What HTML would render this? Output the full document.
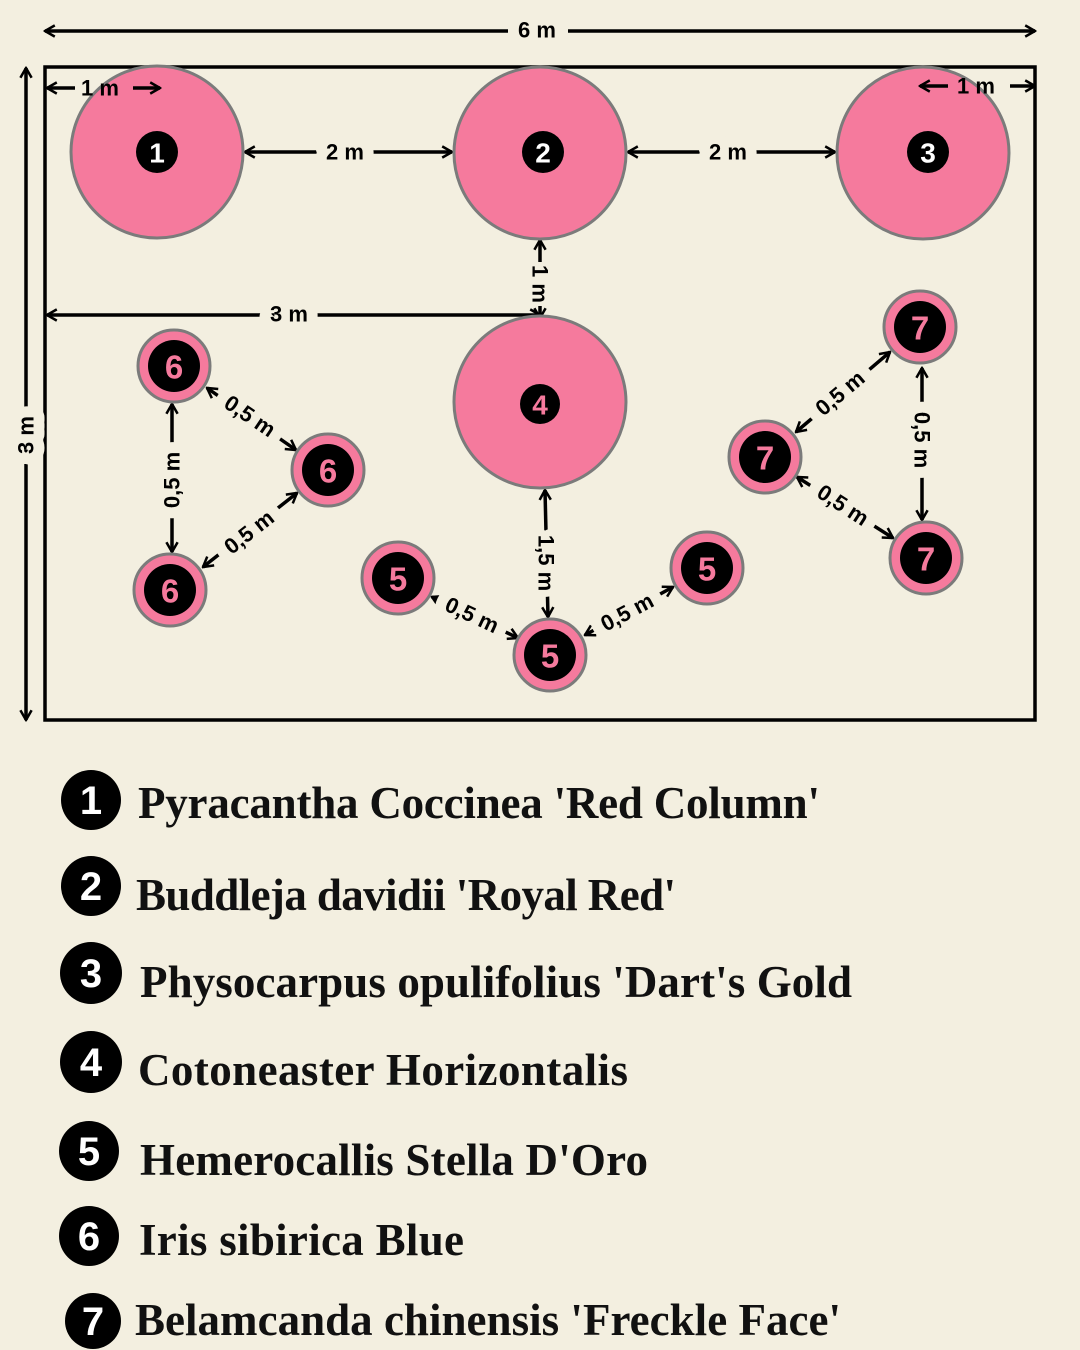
<!DOCTYPE html>
<html><head><meta charset="utf-8"><style>
html,body{margin:0;padding:0;background:#f3efe0;}
svg{display:block}
.d{font-family:"Liberation Sans",sans-serif;font-weight:bold;font-size:22px;fill:#000;paint-order:stroke;stroke:#f3efe0;stroke-width:22px;stroke-linejoin:round}
.d2{font-family:"Liberation Sans",sans-serif;font-weight:bold;font-size:22px;fill:#000}
.n{font-family:"Liberation Sans",sans-serif;font-weight:bold;text-anchor:middle;dominant-baseline:central}
.l{font-family:"Liberation Serif",serif;font-weight:bold;font-size:45px;fill:#111}
</style></head><body>
<svg width="1080" height="1350" viewBox="0 0 1080 1350" xmlns="http://www.w3.org/2000/svg">
<defs>
<marker id="b" viewBox="0 0 10 10" refX="9" refY="5" markerWidth="14" markerHeight="14" orient="auto-start-reverse" markerUnits="userSpaceOnUse">
<path d="M2,1 L9,5 L2,9" fill="none" stroke="#000" stroke-width="1.8"/>
</marker>
</defs>
<rect width="1080" height="1350" fill="#f3efe0"/>
<g stroke="#000" stroke-width="3.5" fill="none" marker-start="url(#b)" marker-end="url(#b)">
<line x1="26" y1="68" x2="26" y2="720"/>
<line x1="245" y1="152" x2="452" y2="152"/>
<line x1="628" y1="152" x2="835" y2="152"/>
<line x1="47" y1="315" x2="540" y2="315"/>
<line x1="545" y1="490" x2="548" y2="617"/>
<line x1="172" y1="404" x2="172" y2="552"/>
<line x1="207" y1="388" x2="296" y2="450"/>
<line x1="203" y1="567" x2="297" y2="493"/>
<line x1="432" y1="597" x2="518" y2="638"/>
<line x1="585" y1="635" x2="673" y2="587"/>
<line x1="796" y1="432" x2="890" y2="352"/>
<line x1="797" y1="477" x2="893" y2="538"/>
<line x1="922" y1="368" x2="922" y2="520"/>
</g>
<g stroke="#000" stroke-width="3.5" fill="none" marker-end="url(#b)">
<line x1="508" y1="31" x2="45" y2="31"/>
<line x1="568" y1="31" x2="1035" y2="31"/>
<line x1="540" y1="262" x2="540" y2="240"/>
<line x1="540" y1="306" x2="540" y2="318"/>
</g>
<rect x="45" y="67" width="990" height="653" fill="none" stroke="#000" stroke-width="3.5"/>
<g fill="#f57a9d" stroke="#7b7b7b" stroke-width="3">
<circle cx="157" cy="152" r="86"/><circle cx="540" cy="153" r="86"/><circle cx="923" cy="153" r="86"/><circle cx="540" cy="402" r="86"/>
<circle cx="174" cy="366" r="36"/><circle cx="328" cy="470" r="36"/><circle cx="170" cy="590" r="36"/>
<circle cx="398" cy="578" r="36"/><circle cx="550" cy="655" r="36"/><circle cx="707" cy="568" r="36"/>
<circle cx="920" cy="327" r="36"/><circle cx="765" cy="457" r="36"/><circle cx="926" cy="558" r="36"/>
</g>
<g fill="#000">
<circle cx="157" cy="152" r="21"/><circle cx="543" cy="152" r="21"/><circle cx="928" cy="152" r="21"/><circle cx="540" cy="404" r="20"/>
<circle cx="174" cy="366" r="26"/><circle cx="328" cy="470" r="26"/><circle cx="170" cy="590" r="26"/>
<circle cx="398" cy="578" r="26"/><circle cx="550" cy="655" r="26"/><circle cx="707" cy="568" r="26"/>
<circle cx="920" cy="327" r="26"/><circle cx="765" cy="457" r="26"/><circle cx="926" cy="558" r="26"/>
</g>
<g class="n" font-size="28" fill="#fff">
<text x="157" y="153">1</text><text x="543" y="153">2</text><text x="928" y="153">3</text>
<text x="540" y="405" fill="#f57a9d">4</text>
</g>
<g class="n" font-size="33" fill="#f57a9d">
<text x="174" y="367">6</text><text x="328" y="471">6</text><text x="170" y="591">6</text>
<text x="398" y="579">5</text><text x="550" y="656">5</text><text x="707" y="569">5</text>
<text x="920" y="328">7</text><text x="765" y="458">7</text><text x="926" y="559">7</text>
</g>
<g class="d" text-anchor="middle" dominant-baseline="central">
<text transform="translate(26,435) rotate(-90)">3 m</text>
<text x="345" y="152">2 m</text>
<text x="728" y="152">2 m</text>
<text x="289" y="314">3 m</text>
<text transform="translate(172,480) rotate(-90)">0,5 m</text>
<text transform="translate(250,416) rotate(34)">0,5 m</text>
<text transform="translate(249,532) rotate(-38)">0,5 m</text>
<text transform="translate(472,615) rotate(25)">0,5 m</text>
<text transform="translate(627,612) rotate(-28)">0,5 m</text>
<text transform="translate(840,393) rotate(-40)">0,5 m</text>
<text transform="translate(843,505) rotate(33)">0,5 m</text>
<text transform="translate(922,440) rotate(90)">0,5 m</text>
<text transform="translate(546,563) rotate(90)" style="stroke-width:14px">1,5 m</text>
</g>
<g class="d2" text-anchor="middle" dominant-baseline="central">
<text x="537" y="30">6 m</text>
<text transform="translate(540,284) rotate(90)">1 m</text>
</g>
<g stroke="#000" stroke-width="3.5" marker-end="url(#b)">
<line x1="75" y1="88" x2="47" y2="88"/>
<line x1="133" y1="88" x2="160" y2="88"/>
<line x1="948" y1="86" x2="920" y2="86"/>
<line x1="1010" y1="86" x2="1035" y2="86"/>
</g>
<text class="d2" x="100" y="88" text-anchor="middle" dominant-baseline="central">1 m</text>
<text class="d2" x="976" y="86" text-anchor="middle" dominant-baseline="central">1 m</text>
<g fill="#000">
<circle cx="91" cy="800" r="30"/><circle cx="91" cy="886" r="30"/><circle cx="91" cy="973" r="31"/><circle cx="91" cy="1062" r="31"/>
<circle cx="89" cy="1151" r="30"/><circle cx="89" cy="1236" r="30"/><circle cx="93" cy="1321" r="28"/>
</g>
<g class="n" font-size="40" fill="#fff">
<text x="91" y="801">1</text><text x="91" y="887">2</text><text x="91" y="974">3</text><text x="91" y="1063">4</text>
<text x="89" y="1152">5</text><text x="89" y="1237">6</text><text x="93" y="1322">7</text>
</g>
<g class="l">
<text x="138" y="818" textLength="682">Pyracantha Coccinea 'Red Column'</text>
<text x="136" y="910" textLength="540">Buddleja davidii 'Royal Red'</text>
<text x="140" y="997" textLength="712">Physocarpus opulifolius 'Dart's Gold</text>
<text x="138" y="1085" textLength="490">Cotoneaster Horizontalis</text>
<text x="140" y="1175" textLength="508">Hemerocallis Stella D'Oro</text>
<text x="139" y="1255" textLength="325">Iris sibirica Blue</text>
<text x="135" y="1335" textLength="706">Belamcanda chinensis 'Freckle Face'</text>
</g>
</svg>
</body></html>
